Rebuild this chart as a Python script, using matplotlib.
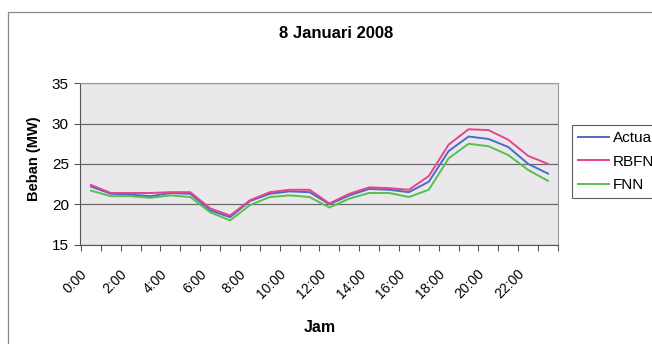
import numpy as np
import matplotlib.pyplot as plt
from matplotlib.patches import Rectangle

plt.rcParams['font.family'] = ['Liberation Sans', 'DejaVu Sans']

# hourly load, 8 Januari 2008
jam = ['%d:00' % h for h in range(24)]
actual = [22.2, 21.3, 21.2, 21.0, 21.4, 21.3, 19.25, 18.4, 20.4, 21.3, 21.6, 21.5,
          20.0, 21.1, 21.9, 21.8, 21.5, 22.8, 26.6, 28.4, 28.1, 27.1, 25.0, 23.8]
rbfnn = [22.4, 21.4, 21.4, 21.4, 21.5, 21.5, 19.5, 18.6, 20.5, 21.5, 21.8, 21.8,
         20.1, 21.3, 22.1, 22.0, 21.8, 23.5, 27.4, 29.3, 29.2, 28.0, 26.0, 25.0]
fnn = [21.7, 21.0, 21.0, 20.8, 21.1, 20.9, 19.0, 18.0, 19.9, 20.9, 21.1, 20.9,
       19.6, 20.7, 21.4, 21.4, 20.9, 21.8, 25.7, 27.5, 27.2, 26.1, 24.25, 22.9]

series = [
    ('Actual', actual, '#4a6cc4'),
    ('RBFNN', rbfnn, '#e6448c'),
    ('FNN', fnn, '#56c04e'),
]

fig = plt.figure(figsize=(6.52, 3.44), dpi=100)
fig.patch.set_facecolor('white')

# outer chart frame
fig.patches.append(Rectangle((8 / 652, -0.1), 1.2, 1.1 - 12 / 344,
                             transform=fig.transFigure, fill=False,
                             edgecolor='#8a8a8a', linewidth=0.9))

ax = fig.add_axes([80 / 652, 1 - 244.6 / 344, 478 / 652, (244.6 - 83.3) / 344])
ax.set_facecolor('#ebe8ec')

x = np.arange(len(jam))
for name, vals, col in series:
    ax.plot(x, vals, color=col, linewidth=1.4, label=name)

ax.set_xlim(-0.5, len(jam) - 0.5)
ax.set_ylim(15, 35)
ax.set_yticks([15, 20, 25, 30, 35])
ax.yaxis.grid(True, color='#6a6a6a', linewidth=0.9)
ax.set_axisbelow(True)

# ticks between categories, rotated labels every 2 hours (end of text sits
# a little left of the category, like Excel does it)
ax.set_xticks(np.arange(-0.5, len(jam), 1.0))
ax.set_xticklabels([])
ax.set_xticks(x[::2] - 0.55, minor=True)
ax.set_xticklabels(jam[::2], minor=True, rotation=45, ha='right', va='top',
                   rotation_mode='anchor', fontsize=10)
ax.tick_params(axis='x', which='minor', length=0, pad=16)
ax.tick_params(axis='x', which='major', length=4, direction='out', color='#555555')
ax.tick_params(axis='y', length=4, direction='out', labelsize=11, pad=4, color='#555555')

for side in ['top', 'right']:
    ax.spines[side].set_color('#9a9a9a')
ax.spines['left'].set_color('#555555')
ax.spines['bottom'].set_color('#555555')

ax.set_ylabel('Beban (MW)', fontsize=10.5, fontweight='bold')
ax.yaxis.set_label_coords(-0.082, 0.53)
ax.set_xlabel('Jam', fontsize=11.5, fontweight='bold')
ax.xaxis.set_label_coords(0.502, -0.47)
fig.text(336 / 652, 1 - 33 / 344, '8 Januari 2008', ha='center', va='center',
         fontsize=12, fontweight='bold')

leg = ax.legend(loc='upper left', bbox_to_anchor=(572 / 652, 1 - 125 / 344),
                bbox_transform=fig.transFigure, fancybox=False, shadow=False,
                frameon=True, fontsize=11, handlelength=2.0, handletextpad=0.3,
                borderpad=0.4, labelspacing=0.62, borderaxespad=0)
leg.get_frame().set_edgecolor('#333333')
leg.get_frame().set_linewidth(0.8)

fig.savefig('out.png', dpi=100)
